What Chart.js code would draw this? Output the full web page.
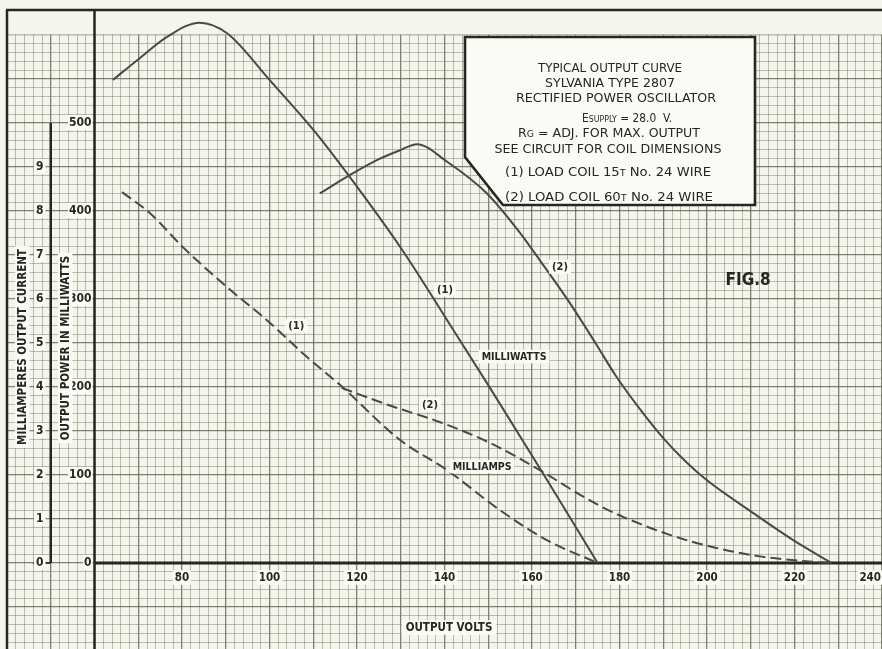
<!DOCTYPE html>
<html><head><meta charset="utf-8">
<script src="https://cdn.jsdelivr.net/npm/chart.js@4/dist/chart.umd.min.js"></script>
<style>html,body{margin:0;padding:0;background:#f5f5ec;overflow:hidden}canvas{display:block}</style>
</head><body>
<canvas id="c" width="882" height="649"></canvas>
<script>
// ---- data ----
const mwVolts1 = [64.2, 69.9, 76.6, 84.0, 90.3, 100.0, 110.4, 118.0, 130.3, 142.0, 150.4, 162.5, 175.0];
const mwLoad1  = [549, 572, 598, 614, 602, 549, 490, 441, 356, 265, 199, 102, 0];
const mwVolts2 = [111.5, 119.1, 125.0, 129.8, 133.7, 140.6, 149.7, 157.3, 161.8, 168.7, 174.5, 179.0, 184.5, 190.0, 195.0, 200.0, 210.5, 219.7, 228.5];
const mwLoad2  = [420, 443, 459, 469, 476, 456, 420, 375, 344, 295, 250, 214, 176, 142, 116, 94, 57, 26, 0];
const maVolts1 = [66.3, 72.7, 80.2, 90.3, 99.4, 108.6, 116.1, 129.8, 140.6, 152.7, 163.4, 175.0];
const maLoad1  = [8.43, 7.95, 7.18, 6.27, 5.52, 4.68, 4.05, 2.80, 2.11, 1.20, 0.52, 0];
const maVolts2 = [116.5, 127.5, 139.0, 150.4, 161.8, 171.0, 175.5, 180.8, 191.5, 201.4, 212.8, 224.0, 228.5];
const maLoad2  = [3.98, 3.58, 3.20, 2.73, 2.11, 1.55, 1.30, 1.05, 0.64, 0.36, 0.14, 0.03, 0];

const xTickValues = [80, 100, 120, 140, 160, 180, 200, 220, 240];
const xTickLabels = ['80', '100', '120', '140', '160', '180', '200', '220', '240'];
const mwTickValues = [0, 100, 200, 300, 400, 500];
const mwTickLabels = ['0', '100', '200', '300', '400', '500'];
const maTickValues = [0, 1, 2, 3, 4, 5, 6, 7, 8, 9];
const maTickLabels = ['0', '1', '2', '3', '4', '5', '6', '7', '8', '9'];

const xTitle = 'OUTPUT VOLTS';
const mwTitle = 'OUTPUT POWER IN MILLIWATTS';
const maTitle = 'MILLIAMPERES OUTPUT CURRENT';
const figLabel = 'FIG.8';

// ---- styling ----
const PAPER = '#f5f5ec';
const WHITE = '#fbfbf6';
const INK = '#262622';
const CURVE = '#4a4a42';
const MINOR = 'rgba(120,124,106,0.48)';
const MAJOR = 'rgba(92,96,82,0.78)';
const FONT = '"DejaVu Sans Condensed", "Liberation Sans Narrow", "DejaVu Sans", sans-serif';

const X_MIN = 38.4, X_MAX = 240;
const Y_MIN = -97.7, Y_MAX = 639.8;
const GRID_TOP = 600, BORDER_TOP = 628.4;

function stepTicks(a, b, s) { const t = []; for (let v = a; v <= b + 1e-9; v += s) t.push({ value: Math.round(v * 100) / 100 }); return t; }
function isMul(v, m) { return Math.abs(v / m - Math.round(v / m)) < 1e-6; }

function label(ctx, s, x, y, o) {
  o = o || {};
  ctx.save();
  ctx.font = (o.weight || 'bold') + ' ' + (o.size || 11) + 'px ' + FONT;
  ctx.textBaseline = 'middle';
  ctx.textAlign = o.align || 'center';
  const w = ctx.measureText(s).width;
  const h = (o.size || 11) + 2;
  if (o.maxRight !== undefined && ctx.textAlign === 'center' && x + w / 2 > o.maxRight) x = o.maxRight - w / 2;
  if (o.bg !== false) {
    let lx = x - w / 2;
    if (ctx.textAlign === 'right') lx = x - w;
    if (ctx.textAlign === 'left') lx = x;
    ctx.fillStyle = WHITE;
    ctx.fillRect(lx - (o.padX || 2), y - h / 2 - 1, w + 2 * (o.padX || 2), h + 1);
  }
  ctx.fillStyle = o.color || INK;
  ctx.fillText(s, x, y);
  ctx.restore();
}

function rotLabel(ctx, s, x, y, size) {
  ctx.save();
  ctx.translate(x, y);
  ctx.rotate(-Math.PI / 2);
  label(ctx, s, 0, 0, { size: size, padX: 3 });
  ctx.restore();
}

// draws a line of mixed-size text centred on cx, squeezed/stretched to the given width
function segLine(ctx, segs, cx, y, width) {
  ctx.save();
  ctx.textBaseline = 'alphabetic';
  ctx.textAlign = 'left';
  let total = 0;
  segs.forEach(sg => { ctx.font = sg[1] + 'px ' + FONT; total += ctx.measureText(sg[0]).width; });
  const k = width ? width / total : 1;
  ctx.translate(cx - total * k / 2, y);
  ctx.scale(k, 1);
  let x = 0;
  ctx.fillStyle = INK;
  segs.forEach(sg => { ctx.font = sg[1] + 'px ' + FONT; ctx.fillText(sg[0], x, 0); x += ctx.measureText(sg[0]).width; });
  ctx.restore();
}

const paperPlugin = {
  id: 'paper',
  beforeDraw(chart) {
    const c = chart.ctx;
    c.save(); c.fillStyle = PAPER; c.fillRect(0, 0, chart.width, chart.height); c.restore();
  },
  beforeDatasetsDraw(chart) {
    const c = chart.ctx, xs = chart.scales.x, ys = chart.scales.y;
    const px = v => xs.getPixelForValue(v), py = v => ys.getPixelForValue(v);
    c.save();
    c.fillStyle = PAPER;
    c.fillRect(0, 0, chart.width, py(GRID_TOP) - 0.5);
    c.fillRect(0, 0, px(40) - 1, chart.height);
    c.strokeStyle = INK;
    c.lineCap = 'butt';
    c.lineWidth = 2.5;
    c.beginPath(); c.moveTo(px(40) - 1, py(BORDER_TOP)); c.lineTo(chart.width, py(BORDER_TOP)); c.stroke();
    c.beginPath(); c.moveTo(px(40), py(BORDER_TOP)); c.lineTo(px(40), chart.height); c.stroke();
    c.beginPath(); c.moveTo(px(60), py(BORDER_TOP)); c.lineTo(px(60), chart.height); c.stroke();
    c.beginPath(); c.moveTo(px(50), py(500)); c.lineTo(px(50), py(0)); c.stroke();
    c.lineWidth = 2.8;
    c.beginPath(); c.moveTo(px(60), py(0)); c.lineTo(chart.width, py(0)); c.stroke();
    c.lineWidth = 1.6;
    c.beginPath(); c.moveTo(px(46), py(0)); c.lineTo(px(50), py(0)); c.stroke();
    c.restore();
  },
  afterDatasetsDraw(chart) {
    const c = chart.ctx, xs = chart.scales.x, ys = chart.scales.y, ya = chart.scales.ya;
    const px = v => xs.getPixelForValue(v), py = v => ys.getPixelForValue(v);
    xTickValues.forEach((v, i) => label(c, xTickLabels[i], px(v), py(0) + 15, { size: 11.5, maxRight: chart.width - 1 }));
    mwTickValues.forEach((v, i) => label(c, mwTickLabels[i], px(60) - 3, py(v), { size: 12, align: 'right', padX: 1 }));
    maTickValues.forEach((v, i) => label(c, maTickLabels[i], px(50) - 11, ya.getPixelForValue(v), { size: 12, padX: 2 }));
    label(c, xTitle, 449, 628, { size: 11.5, padX: 4 });
    rotLabel(c, maTitle, px(43.6), 347, 11.5);
    rotLabel(c, mwTitle, px(53.4), 348, 11.5);
    label(c, '(1)', px(140.1), py(310), { size: 11, padX: 3 });
    label(c, '(2)', px(166.4), py(336), { size: 11, padX: 3 });
    label(c, 'MILLIWATTS', px(155.9), py(234), { size: 10.5, padX: 3 });
    label(c, '(2)', px(136.7), py(179.5), { size: 11, padX: 3 });
    label(c, 'MILLIAMPS', px(148.6), py(109), { size: 10.5, padX: 3 });
    label(c, '(1)', px(106.1), py(269), { size: 11, padX: 3 });
    label(c, figLabel, px(209.4), py(320.5), { size: 17, bg: false });
    // description box
    c.save();
    c.beginPath();
    c.moveTo(465, 37); c.lineTo(755, 37); c.lineTo(755, 205); c.lineTo(503, 205); c.lineTo(465, 157); c.closePath();
    c.fillStyle = WHITE; c.fill();
    c.lineWidth = 2.6; c.strokeStyle = INK; c.stroke();
    c.restore();
    segLine(c, [['TYPICAL OUTPUT CURVE', 11.5]], 610, 72, 144);
    segLine(c, [['SYLVANIA TYPE 2807', 11.5]], 610, 87, 130);
    segLine(c, [['RECTIFIED POWER OSCILLATOR', 11.5]], 616, 102, 200);
    segLine(c, [['E', 11.5], ['SUPPLY', 8.5], [' = 28.0  V.', 11.5]], 627, 122, 90);
    segLine(c, [['R', 11.5], ['G', 8.5], [' = ADJ. FOR MAX. OUTPUT', 11.5]], 609, 137, 182);
    segLine(c, [['SEE CIRCUIT FOR COIL DIMENSIONS', 11.5]], 608, 153, 227);
    segLine(c, [['(1) LOAD COIL 15', 11.5], ['T', 8.5], [' No. 24 WIRE', 11.5]], 608, 176, 206);
    segLine(c, [['(2) LOAD COIL 60', 11.5], ['T', 8.5], [' No. 24 WIRE', 11.5]], 609, 201, 208);
  }
};

function pts(xs, ys) { return xs.map((v, i) => ({ x: v, y: ys[i] })); }
const solid = { showLine: true, pointRadius: 0, borderColor: CURVE, borderWidth: 2, cubicInterpolationMode: 'monotone', fill: false };

new Chart(document.getElementById('c'), {
  type: 'scatter',
  data: {
    datasets: [
      Object.assign({ label: 'Milliwatts (1)', data: pts(mwVolts1, mwLoad1), yAxisID: 'y' }, solid),
      Object.assign({ label: 'Milliwatts (2)', data: pts(mwVolts2, mwLoad2), yAxisID: 'y' }, solid),
      Object.assign({ label: 'Milliamps (1)', data: pts(maVolts1, maLoad1), yAxisID: 'ya', borderDash: [11, 5] }, solid),
      Object.assign({ label: 'Milliamps (2)', data: pts(maVolts2, maLoad2), yAxisID: 'ya', borderDash: [11, 5] }, solid)
    ]
  },
  options: {
    responsive: false,
    animation: false,
    devicePixelRatio: 1,
    layout: { padding: 0 },
    plugins: { legend: { display: false }, tooltip: { enabled: false } },
    scales: {
      x: {
        type: 'linear', min: X_MIN, max: X_MAX,
        afterBuildTicks: s => { s.ticks = stepTicks(40, 240, 2); },
        ticks: { display: false, padding: 0 },
        border: { display: false },
        grid: {
          drawTicks: false,
          color: ctx => isMul(ctx.tick.value, 10) ? MAJOR : MINOR,
          lineWidth: ctx => isMul(ctx.tick.value, 10) ? 1.3 : 1
        }
      },
      y: {
        type: 'linear', min: Y_MIN, max: Y_MAX,
        afterBuildTicks: s => { s.ticks = stepTicks(-90, GRID_TOP, 10); },
        ticks: { display: false, padding: 0 },
        border: { display: false },
        grid: {
          drawTicks: false,
          color: ctx => isMul(ctx.tick.value, 50) ? MAJOR : MINOR,
          lineWidth: ctx => isMul(ctx.tick.value, 50) ? 1.3 : 1
        }
      },
      ya: {
        type: 'linear', display: false, min: Y_MIN / 50, max: Y_MAX / 50
      }
    }
  },
  plugins: [paperPlugin]
});
</script>
</body></html>
